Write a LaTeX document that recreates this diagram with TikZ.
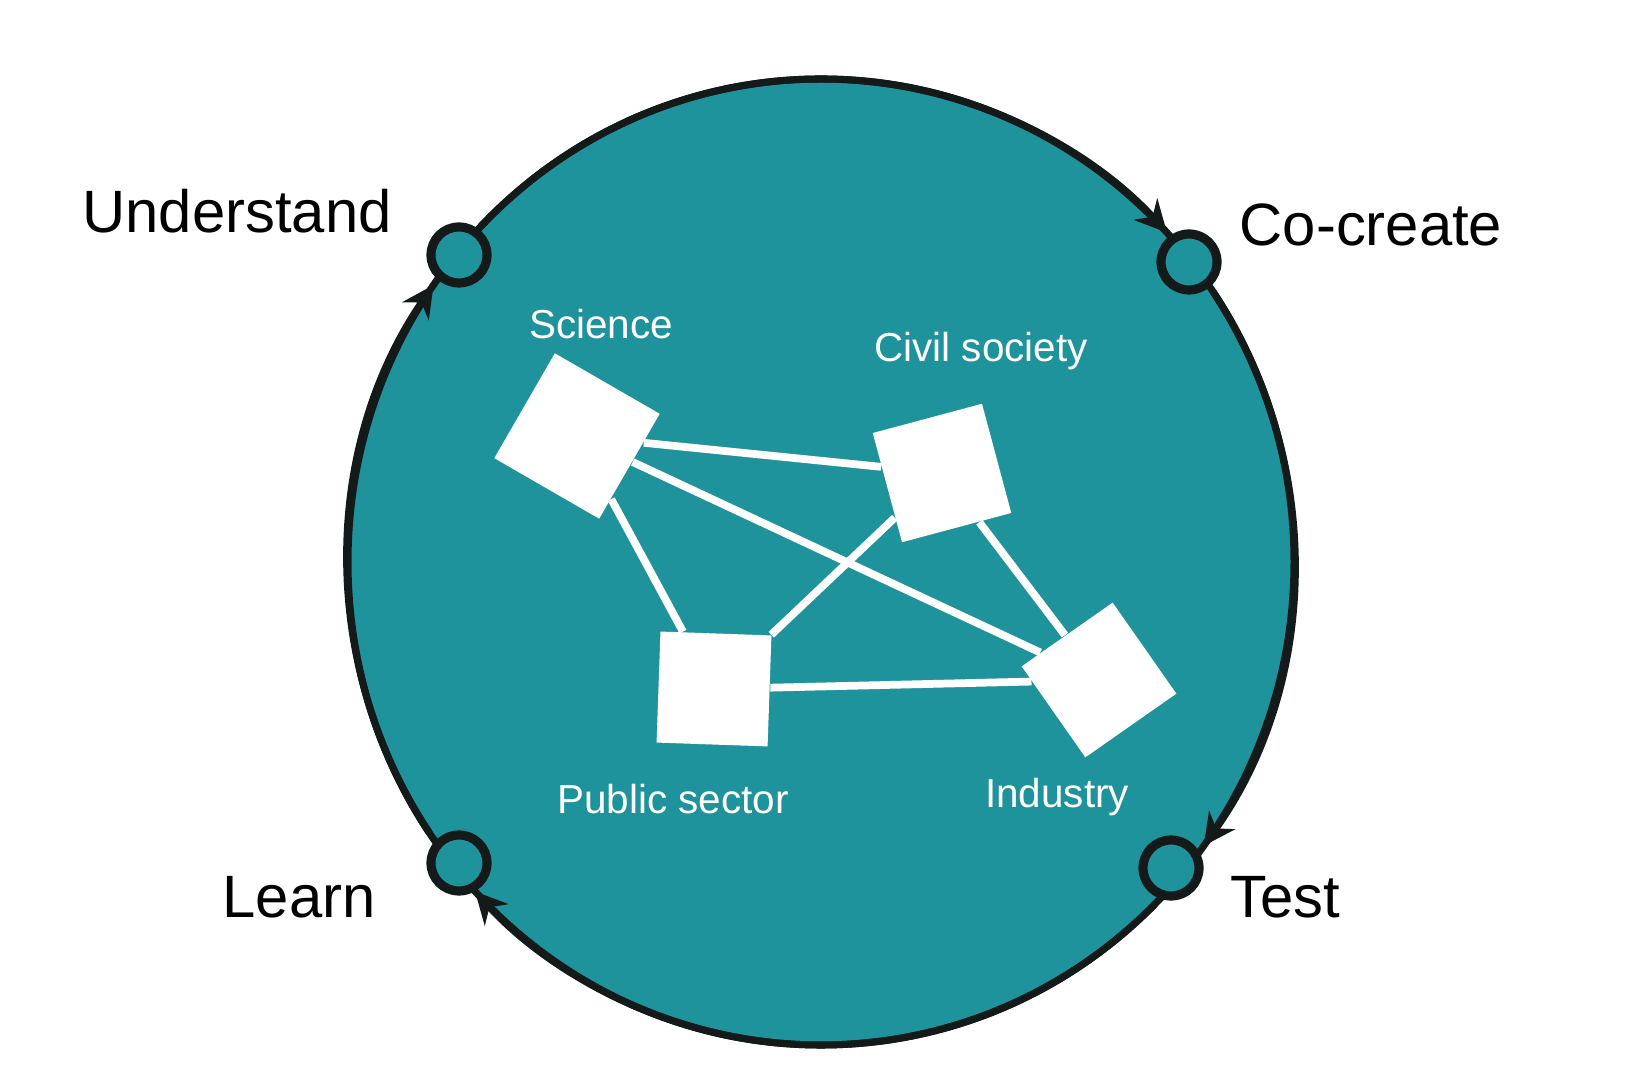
\documentclass[tikz,border=0pt]{standalone}
\usepackage{fontspec}
\setmainfont{Liberation Sans}
\usetikzlibrary{arrows.meta,calc}
\definecolor{teal1}{HTML}{1F939C}
\definecolor{ink}{HTML}{141A1A}
\tikzset{
  stage/.style={circle,draw=ink,line width=2.6pt,fill=teal1,minimum size=0.56cm,inner sep=0pt},
  stagelabel/.style={font=\fontsize{17}{20}\selectfont,text=black},
  actor/.style={fill=white,minimum size=#1,inner sep=0pt},
  actorlabel/.style={font=\fontsize{11.5}{14}\selectfont,text=white},
  link/.style={white,line width=2.2pt},
  cycle/.style={ink,line width=2pt,-{Stealth[length=9pt,width=9pt]}}
}
\begin{document}
\begin{tikzpicture}[x=0.01cm,y=0.01cm]
    \useasboundingbox (0,0) rectangle (1646,1070);
    \coordinate (o) at (821,508);
    \fill[teal1] (o) ellipse[x radius=473,y radius=483];
    \draw[ink,line width=2pt] (o) ellipse[x radius=473,y radius=483];

    % cycle arrows
    \draw[cycle] ($(o)+(136:473 and 483)$) arc[start angle=136,end angle=43,x radius=473,y radius=483];
    \draw[cycle] ($(o)+(34:473 and 483)$) arc[start angle=34,end angle=-36,x radius=473,y radius=483];
    \draw[cycle] ($(o)+(-45:473 and 483)$) arc[start angle=-45,end angle=-137,x radius=473,y radius=483];
    \draw[cycle] ($(o)+(-146:473 and 483)$) arc[start angle=-146,end angle=-215,x radius=473,y radius=483];

    \node[stage] (understand) at (459,815) {};
    \node[stage] (cocreate) at (1189,808) {};
    \node[stage] (test) at (1171,202) {};
    \node[stage] (learn) at (459,207) {};
    \node[stagelabel] at (237,859) {Understand};
    \node[stagelabel] at (1371,845) {Co-create};
    \node[stagelabel] at (1285,173) {Test};
    \node[stagelabel] at (299,173) {Learn};

    % actors
    \node[actor=1.21cm,rotate=-30] (science) at (577,634) {};
    \node[actor=1.13cm,rotate=15] (civil) at (942,597) {};
    \node[actor=1.11cm,rotate=-2] (public) at (714,381) {};
    \node[actor=1.11cm,rotate=35] (industry) at (1099,390) {};
    \draw[link] (science) -- (civil);
    \draw[link] (science) -- (public);
    \draw[link] (science) -- (industry);
    \draw[link] (civil) -- (public);
    \draw[link] (civil) -- (industry);
    \draw[link] (public) -- (industry);
    \node[actorlabel] at (601,746) {Science};
    \node[actorlabel] at (981,719) {Civil society};
    \node[actorlabel] at (673,271) {Public sector};
    \node[actorlabel] at (1057,273) {Industry};
\end{tikzpicture}
\end{document}
